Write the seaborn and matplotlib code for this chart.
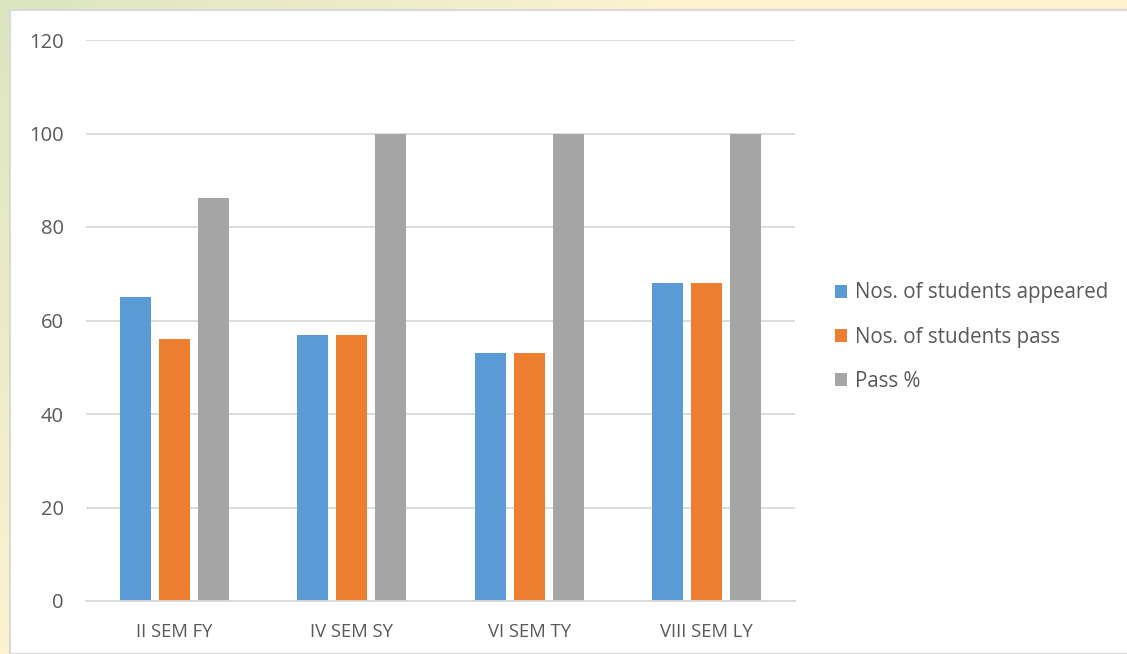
import numpy as np
import pandas as pd
import seaborn as sns
import matplotlib.pyplot as plt
from matplotlib.patches import Rectangle

# Data
semesters = ["II SEM FY", "IV SEM SY", "VI SEM TY", "VIII SEM LY"]
appeared = [65, 57, 53, 68]
passed = [56, 57, 53, 68]
pass_pct = [86.15, 100, 100, 100]
series_names = ["Nos. of students appeared", "Nos. of students pass", "Pass %"]
colors = ["#5B9BD5", "#ED7D31", "#A5A5A5"]

df = pd.DataFrame({
    "Semester": semesters * 3,
    "Series": [series_names[0]] * 4 + [series_names[1]] * 4 + [series_names[2]] * 4,
    "Value": appeared + passed + pass_pct,
})

sns.set_theme(style="white")
plt.rcParams["font.family"] = ["Open Sans", "DejaVu Sans"]
text_color = "#595959"

fig = plt.figure(figsize=(11.27, 6.54), dpi=100)

# background gradient (green at top-left, yellow elsewhere)
bg = fig.add_axes([0, 0, 1, 1], zorder=-10)
xx, yy = np.meshgrid(np.linspace(0, 1, 200), np.linspace(0, 1, 200))
c_green = np.array([0.86, 0.90, 0.75])
c_yellow = np.array([0.99, 0.95, 0.81])
w = np.clip(np.sqrt((xx * 1.7) ** 2 + (yy * 1.0) ** 2), 0, 1)[..., None]
img = c_green * (1 - w) + c_yellow * w
bg.imshow(img, extent=[0, 1, 0, 1], aspect="auto", origin="upper")
bg.axis("off")
bg.add_patch(Rectangle((10 / 1127, 0), 1.1, (654 - 10) / 654, facecolor="white",
                       edgecolor="#D9D9D9", linewidth=1.5, transform=bg.transAxes))
bg.set_xlim(0, 1)
bg.set_ylim(0, 1)

ax = fig.add_axes([86 / 1127, 53 / 654, (795 - 86) / 1127, (601 - 40) / 654])
ax.set_facecolor("none")
sns.barplot(
    data=df, x="Semester", y="Value", hue="Series",
    palette=colors, width=0.66, gap=0.2, ax=ax, legend=True,
    saturation=1, linewidth=0,
)

ax.set_ylim(0, 120)
ax.set_xlim(-0.5, 3.5)
ax.set_yticks(range(0, 121, 20))
ax.set(xlabel=None, ylabel=None)
ax.yaxis.grid(True, color="#D9D9D9", linewidth=1.3)
ax.set_axisbelow(True)
ax.spines[["top", "right", "left"]].set_visible(False)
ax.spines["bottom"].set_color("#D9D9D9")
ax.spines["bottom"].set_linewidth(1.3)
ax.tick_params(axis="both", length=0, colors=text_color)
ax.tick_params(axis="y", pad=16, labelsize=14.5)
ax.tick_params(axis="x", pad=16, labelsize=13.3)

legend = ax.get_legend()
handles = legend.legend_handles
legend.remove()
fig.legend(
    handles, series_names,
    loc="center left", bbox_to_anchor=(816 / 1127, 1 - 337 / 654),
    frameon=False, fontsize=14.8, labelcolor=text_color,
    handlelength=0.6, handleheight=0.6, handletextpad=0.4,
    labelspacing=1.12,
)

fig.savefig("out.png", dpi=100)
